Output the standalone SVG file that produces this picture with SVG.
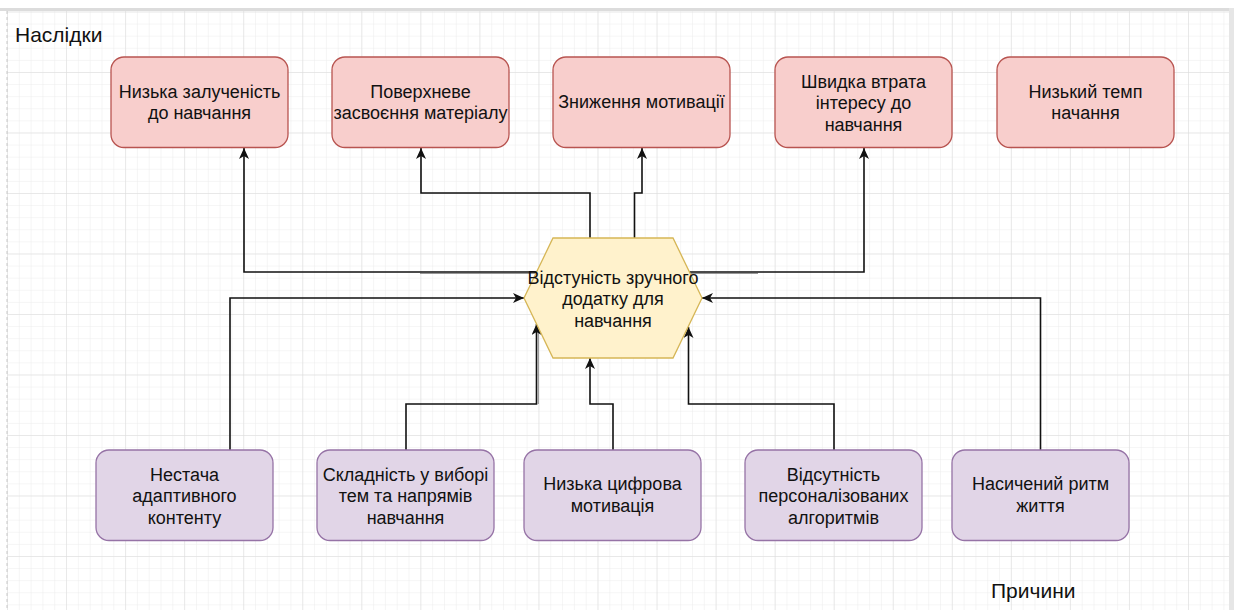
<svg xmlns="http://www.w3.org/2000/svg" width="1234" height="610" viewBox="0 0 1234 610">
<style>
  text { font-family: "Liberation Sans", Arial, Helvetica, sans-serif; fill: #111; }
  .lbl { font-size: 18px; text-anchor: middle; }
  .hdr { font-size: 21px; }
  .eff { fill: #f8cecc; stroke: #b85450; stroke-width: 1.3; }
  .cause { fill: #e1d5e7; stroke: #9673a6; stroke-width: 1.3; }
  .core { fill: #fff2cc; stroke: #d6b656; stroke-width: 1.3; }
  .edge { fill: none; stroke: #111; stroke-width: 1.6; marker-end: url(#arr); }
  .ghost { fill: none; stroke: #8a8a8a; stroke-width: 1; }
</style>
<defs>
  <pattern id="minor" patternUnits="userSpaceOnUse" x="7" y="11.5" width="11.81" height="12.1">
    <path d="M0,0 V12.1 M0,0 H11.81" fill="none" stroke="#ececec" stroke-width="1"/>
  </pattern>
  <pattern id="major" patternUnits="userSpaceOnUse" x="7" y="11.5" width="59.05" height="60.5">
    <path d="M0,0 V60.5 M0,0 H59.05" fill="none" stroke="#dcdcdc" stroke-width="1"/>
  </pattern>
  <marker id="arr" markerUnits="userSpaceOnUse" markerWidth="12" markerHeight="10" refX="11" refY="5" orient="auto">
    <path d="M0,0 L11,5 L0,10 L3,5 Z" fill="#111"/>
  </marker>
</defs>

<rect x="0" y="0" width="1234" height="610" fill="#ffffff"/>
<rect x="7" y="11" width="1222" height="599" fill="url(#minor)"/>
<rect x="7" y="11" width="1222" height="599" fill="url(#major)"/>
<rect x="0" y="8" width="1234" height="3" fill="#dcdcdc"/>
<rect x="1229" y="8" width="5" height="602" fill="#e6e6e6"/>
<line x1="7" y1="11" x2="7" y2="610" stroke="#c8c8c8" stroke-width="1" stroke-dasharray="3,3"/>

<text class="hdr" x="15" y="41.5">Наслідки</text>
<text class="hdr" x="991" y="598">Причини</text>

<g id="connectors">
  <path class="ghost" d="M420,273.4 H536"/>
  <path class="ghost" d="M691,273.4 H758"/>
  <path class="ghost" d="M538.3,404 V332"/>
  <path class="edge" d="M537,272 H244 V148"/>
  <path class="edge" d="M590,238 V193 H421 V148"/>
  <path class="edge" d="M634.5,238 V193 H642 V148"/>
  <path class="edge" d="M689.5,272 H864 V148"/>
  <path class="edge" d="M230,450 V298 H524"/>
  <path class="edge" d="M406,450 V404 H536.5 V324"/>
  <path class="edge" d="M613,450 V404 H590 V358"/>
  <path class="edge" d="M834,450 V404 H688.5 V327"/>
  <path class="edge" d="M1040.5,450 V298 H702"/>
</g>

<g id="effect1">
  <rect class="eff" x="111" y="57" width="177" height="90.5" rx="13"/>
  <text class="lbl" x="199.5" y="97.5">Низька залученість</text>
  <text class="lbl" x="199.5" y="119.3">до навчання</text>
</g>
<g id="effect2">
  <rect class="eff" x="332" y="57" width="177" height="90.5" rx="13"/>
  <text class="lbl" x="420.5" y="97.5">Поверхневе</text>
  <text class="lbl" x="420.5" y="119.3">засвоєння матеріалу</text>
</g>
<g id="effect3">
  <rect class="eff" x="553" y="57" width="177" height="90.5" rx="13"/>
  <text class="lbl" x="641.5" y="108">Зниження мотивації</text>
</g>
<g id="effect4">
  <rect class="eff" x="775" y="57" width="177" height="90.5" rx="13"/>
  <text class="lbl" x="863.5" y="87.5">Швидка втрата</text>
  <text class="lbl" x="863.5" y="109">інтересу до</text>
  <text class="lbl" x="863.5" y="130.6">навчання</text>
</g>
<g id="effect5">
  <rect class="eff" x="997" y="57" width="177" height="90.5" rx="13"/>
  <text class="lbl" x="1085.5" y="97.5">Низький темп</text>
  <text class="lbl" x="1085.5" y="119.3">начання</text>
</g>

<g id="core">
  <polygon class="core" points="524,298 553,238 673,238 702,298 673,358 553,358"/>
  <text class="lbl" x="613" y="283.5">Відстуність зручного</text>
  <text class="lbl" x="613" y="305">додатку для</text>
  <text class="lbl" x="613" y="326.5">навчання</text>
</g>

<g id="cause1">
  <rect class="cause" x="96" y="450" width="177" height="90.5" rx="13"/>
  <text class="lbl" x="184.5" y="480.5">Нестача</text>
  <text class="lbl" x="184.5" y="502">адаптивного</text>
  <text class="lbl" x="184.5" y="523.5">контенту</text>
</g>
<g id="cause2">
  <rect class="cause" x="317" y="450" width="177" height="90.5" rx="13"/>
  <text class="lbl" x="405.5" y="480.5">Складність у виборі</text>
  <text class="lbl" x="405.5" y="502">тем та напрямів</text>
  <text class="lbl" x="405.5" y="523.5">навчання</text>
</g>
<g id="cause3">
  <rect class="cause" x="524" y="450" width="177" height="90.5" rx="13"/>
  <text class="lbl" x="612.5" y="490">Низька цифрова</text>
  <text class="lbl" x="612.5" y="512">мотивація</text>
</g>
<g id="cause4">
  <rect class="cause" x="745" y="450" width="177" height="90.5" rx="13"/>
  <text class="lbl" x="833.5" y="480.5">Відсутність</text>
  <text class="lbl" x="833.5" y="502">персоналізованих</text>
  <text class="lbl" x="833.5" y="523.5">алгоритмів</text>
</g>
<g id="cause5">
  <rect class="cause" x="952" y="450" width="177" height="90.5" rx="13"/>
  <text class="lbl" x="1040.5" y="490">Насичений ритм</text>
  <text class="lbl" x="1040.5" y="512">життя</text>
</g>
</svg>
